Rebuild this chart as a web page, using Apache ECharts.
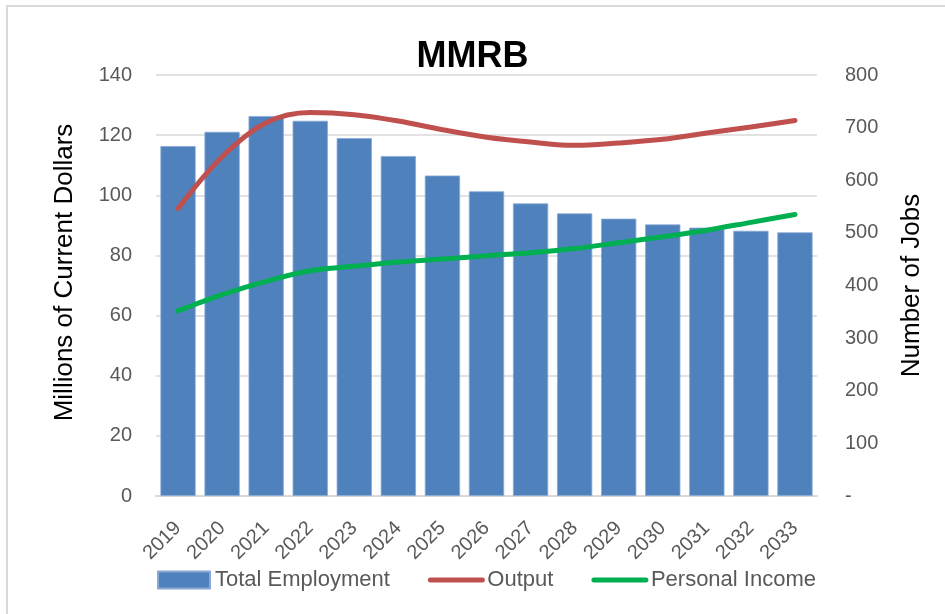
<!DOCTYPE html>
<html>
<head>
<meta charset="utf-8">
<script src="https://cdn.jsdelivr.net/npm/echarts@6/dist/echarts.min.js"></script>
<style>
html,body{margin:0;padding:0;background:#fff;}
#chart{width:945px;height:614px;}
</style>
</head>
<body>
<div id="chart"></div>
<script>
const years = ['2019','2020','2021','2022','2023','2024','2025','2026','2027','2028','2029','2030','2031','2032','2033'];
const totalEmployment = [665, 692, 722, 713, 680, 646, 609, 579, 556, 537, 527, 516, 510, 504, 501];
const output = [95.6, 112.8, 124.1, 127.5, 126.8, 124.7, 121.8, 119.3, 117.7, 116.6, 117.4, 118.6, 120.7, 122.7, 124.9];
const personalIncome = [61.6, 67.0, 71.4, 74.9, 76.4, 77.8, 78.8, 79.9, 80.9, 82.3, 84.2, 86.2, 88.4, 91.0, 93.6];

const FONT = 'Liberation Sans';
const chart = echarts.init(document.getElementById('chart'), null, {renderer: 'canvas'});
chart.setOption({
  backgroundColor: '#ffffff',
  animation: false,
  textStyle: {fontFamily: FONT},
  title: {
    text: 'MMRB',
    left: 'center',
    top: 34,
    textStyle: {fontFamily: FONT, fontWeight: 'bold', fontSize: 36, color: '#000'}
  },
  graphic: [{
    type: 'rect',
    shape: {x: 7, y: 6, width: 960, height: 640},
    style: {fill: 'none', stroke: '#d9d9d9', lineWidth: 2},
    silent: true
  }],
  grid: {left: 156, right: 128, top: 75, bottom: 118},
  legend: {
    left: 152,
    top: 564,
    itemWidth: 52,
    itemHeight: 17,
    itemGap: 38,
    textStyle: {fontFamily: FONT, fontSize: 22, color: '#595959'},
    data: [
      {name: 'Total Employment', icon: 'rect'},
      {name: 'Output', itemStyle: {opacity: 0}, lineStyle: {width: 5, cap: 'round'}},
      {name: 'Personal Income', itemStyle: {opacity: 0}, lineStyle: {width: 5, cap: 'round'}}
    ]
  },
  xAxis: {
    type: 'category',
    data: years,
    axisLine: {lineStyle: {color: '#d9d9d9', width: 2}},
    axisTick: {show: false},
    axisLabel: {rotate: 45, fontFamily: FONT, fontSize: 20, color: '#595959', margin: 29, interval: 0}
  },
  yAxis: [
    {
      type: 'value',
      min: 0, max: 140, interval: 20,
      name: 'Millions of Current Dollars',
      nameLocation: 'middle',
      nameRotate: 90,
      nameGap: 78,
      nameTextStyle: {fontFamily: FONT, fontSize: 26, color: '#000', padding: [0, 0, 0, 26]},
      axisLine: {show: false},
      axisTick: {show: false},
      axisLabel: {fontFamily: FONT, fontSize: 20, color: '#595959', margin: 24},
      splitLine: {lineStyle: {color: '#d9d9d9', width: 1.5}}
    },
    {
      type: 'value',
      min: 0, max: 800, interval: 100,
      name: 'Number of Jobs',
      nameLocation: 'middle',
      nameRotate: 90,
      nameGap: 82,
      nameTextStyle: {fontFamily: FONT, fontSize: 26, color: '#000'},
      axisLine: {show: false},
      axisTick: {show: false},
      axisLabel: {fontFamily: FONT, fontSize: 20, color: '#595959', margin: 28,
        formatter: v => v === 0 ? '-' : String(v)},
      splitLine: {show: false}
    }
  ],
  series: [
    {
      name: 'Total Employment',
      type: 'bar',
      yAxisIndex: 1,
      data: totalEmployment,
      barCategoryGap: '20%',
      itemStyle: {color: '#4f81bd', borderColor: '#8aa9d6', borderWidth: 0.8},
      z: 1
    },
    {
      name: 'Output',
      type: 'line',
      yAxisIndex: 0,
      data: output,
      smooth: 0.35,
      symbol: 'none',
      lineStyle: {color: '#c0504d', width: 5, cap: 'round'},
      itemStyle: {color: '#c0504d'},
      z: 3
    },
    {
      name: 'Personal Income',
      type: 'line',
      yAxisIndex: 0,
      data: personalIncome,
      smooth: 0.35,
      symbol: 'none',
      lineStyle: {color: '#00b050', width: 5, cap: 'round'},
      itemStyle: {color: '#00b050'},
      z: 3
    }
  ]
});
</script>
</body>
</html>
